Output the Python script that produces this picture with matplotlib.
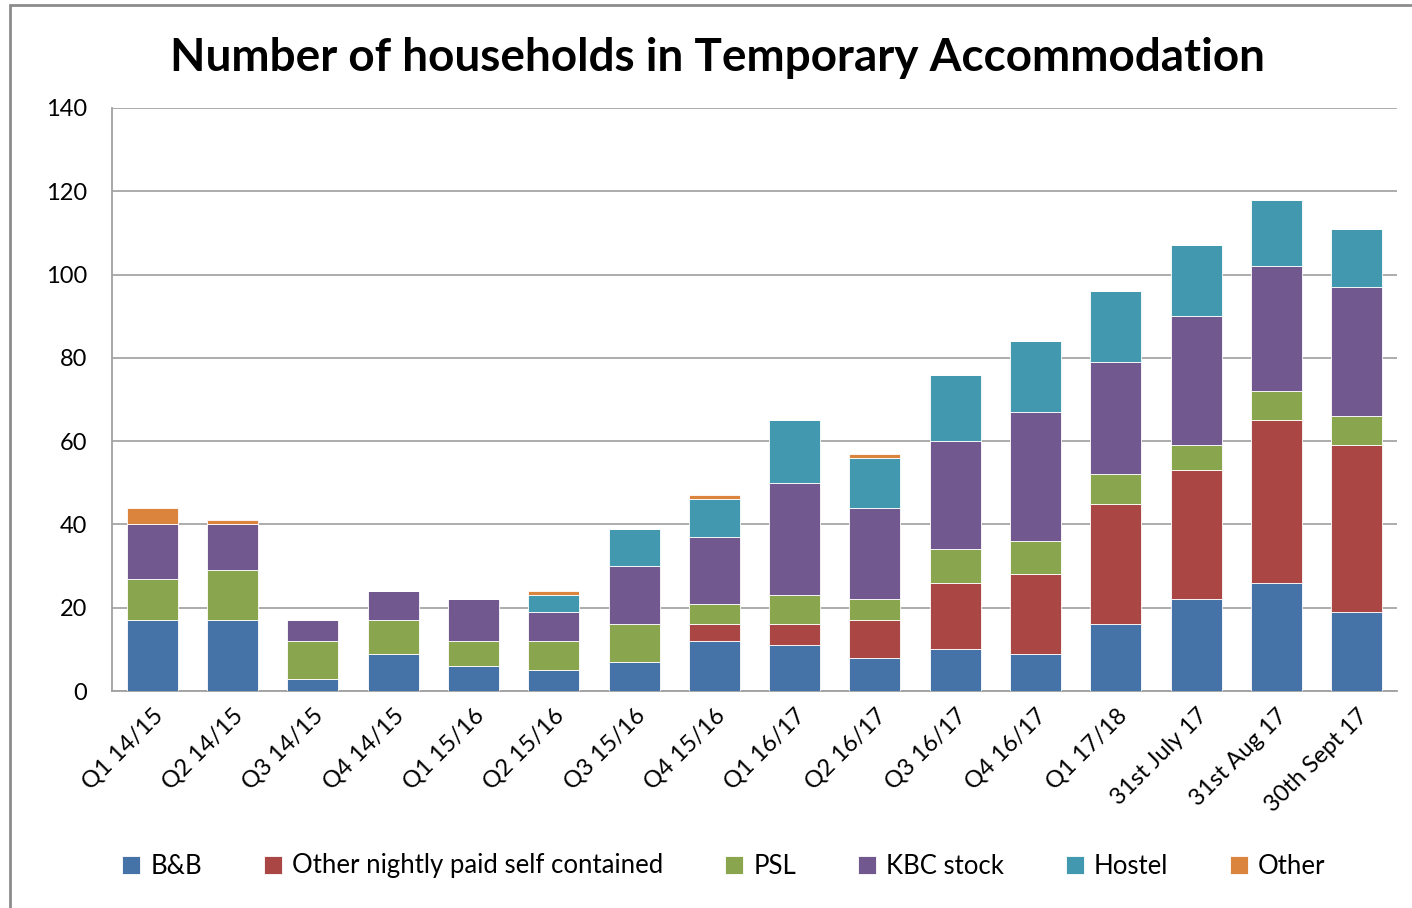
import matplotlib
matplotlib.use("Agg")
import matplotlib.pyplot as plt
from matplotlib.patches import Rectangle
import numpy as np

plt.rcParams['font.family'] = ['Lato', 'DejaVu Sans']

categories = ["Q1 14/15", "Q2 14/15", "Q3 14/15", "Q4 14/15", "Q1 15/16", "Q2 15/16",
              "Q3 15/16", "Q4 15/16", "Q1 16/17", "Q2 16/17", "Q3 16/17", "Q4 16/17",
              "Q1 17/18", "31st July 17", "31st Aug 17", "30th Sept 17"]
bnb =       [17, 17, 3, 9, 6, 5, 7, 12, 11, 8, 10, 9, 16, 22, 26, 19]
other_npsc = [0, 0, 0, 0, 0, 0, 0, 4, 5, 9, 16, 19, 29, 31, 39, 40]
psl =       [10, 12, 9, 8, 6, 7, 9, 5, 7, 5, 8, 8, 7, 6, 7, 7]
kbc =       [13, 11, 5, 7, 10, 7, 14, 16, 27, 22, 26, 31, 27, 31, 30, 31]
hostel =    [0, 0, 0, 0, 0, 4, 9, 9, 15, 12, 16, 17, 17, 17, 16, 14]
other =     [4, 1, 0, 0, 0, 1, 0, 1, 0, 1, 0, 0, 0, 0, 0, 0]

series_names = ["B&B", "Other nightly paid self contained", "PSL", "KBC stock", "Hostel", "Other"]
series_vals = [bnb, other_npsc, psl, kbc, hostel, other]
colors = ["#4572A7", "#AA4643", "#89A54E", "#71588F", "#4198AF", "#DB843D"]
yticks = [0, 20, 40, 60, 80, 100, 120, 140]

W, H = 1412, 908
fig = plt.figure(figsize=(W / 100, H / 100), dpi=100)
fig.patches.append(Rectangle((10 / W, -0.1), 1.2, 1 - 5 / H + 0.1, transform=fig.transFigure,
                             fill=False, edgecolor="#8c8c8c", linewidth=2))

ax = fig.add_axes([112 / W, 1 - 691 / H, (1397 - 112) / W, (691 - 108) / H])
x = np.arange(len(categories))
bottom = np.zeros(len(categories))
for name, vals, c in zip(series_names, series_vals, colors):
    v = np.array(vals, dtype=float)
    ax.bar(x, v, bottom=bottom, width=0.635, color=c, label=name,
           edgecolor="white", linewidth=0.6, zorder=3)
    bottom += v

ax.set_xlim(-0.5, len(categories) - 0.5)
ax.set_ylim(0, 140)
ax.set_yticks(yticks)
ax.yaxis.grid(True, color="#a6a6a6", linewidth=1.3, zorder=0)
ax.set_axisbelow(True)
for s in ["top", "right"]:
    ax.spines[s].set_visible(False)
for s in ["left", "bottom"]:
    ax.spines[s].set_color("#a0a0a0")
    ax.spines[s].set_linewidth(1.3)
ax.tick_params(axis="y", length=0, pad=18, labelsize=17)
ax.tick_params(axis="x", length=0, pad=10, labelsize=17)
ax.set_xticks(x)
ax.set_xticklabels(categories, rotation=45, ha="right", rotation_mode="anchor")

fig.text(718 / W, 1 - 58 / H, "Number of households in Temporary Accommodation",
         ha="center", va="center", fontsize=33, fontweight="bold")

handles, labels = ax.get_legend_handles_labels()
leg = fig.legend(handles, labels, loc="center", bbox_to_anchor=(724 / W, 1 - 866 / H),
                 ncol=6, frameon=False, fontsize=18.5, handlelength=0.7, handleheight=0.7,
                 handletextpad=0.4, columnspacing=2.4)

fig.savefig("out.png", dpi=100)
